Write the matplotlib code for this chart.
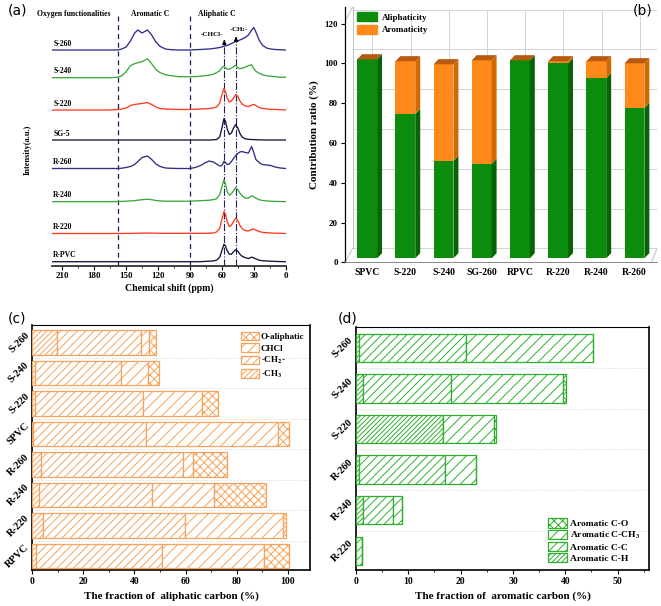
import matplotlib
matplotlib.use("Agg")
import matplotlib.pyplot as plt
from matplotlib.patches import Polygon, Patch
import numpy as np

# ---------------- (a) 13C NMR spectra (intensity) ----------------
ppm = [220, 200, 180, 165, 158, 154, 150, 146, 142, 139, 135, 130, 126, 122, 118,
       113, 108, 100, 90, 85, 80, 76, 72, 68, 65, 62, 60, 58, 56.5, 55,
       53, 51, 49, 47, 45, 43, 41, 38, 35, 32, 30, 28, 25, 22, 18,
       14, 10, 5, 0]
s260 = [0, 0, 0, 0, 0, 1, 3, 9, 17, 20, 17, 20, 15, 8, 3.5,
        1, 0.3, 0, 0, 0.3, 0.5, 0.8, 1, 1.5, 2, 2.5, 3, 4, 4, 4.5,
        5.5, 6.5, 7.5, 8.5, 9, 10, 11, 12.5, 15, 20, 22.5, 18, 10, 5, 2,
        1, 0.5, 0.2, 0]
s240 = [0, 0, 0, 0, 0.5, 2, 6, 12, 14, 15, 16, 19, 14, 8, 5,
        3, 2, 1, 1, 1, 1.5, 2, 2.5, 3.5, 5, 7, 10, 11.5, 10, 8.5,
        8.5, 9.5, 11, 12.5, 10, 9, 9.5, 10.5, 12, 13, 9, 6.5, 4.5, 3, 2,
        1.5, 1, 0.5, 0.5]
s220 = [0, 0, 0, 0, 0.5, 1, 2, 4.5, 5.5, 6, 6.5, 7.5, 5.5, 3, 1.5,
        1, 0.8, 0.5, 0.5, 0.8, 1, 1.2, 1.5, 2, 3, 7, 15, 21.5, 18, 12,
        8, 9, 12, 15.5, 13.5, 9, 6, 4, 3.5, 5, 5.5, 4.5, 2.5, 1.5, 1,
        0.7, 0.5, 0.3, 0]
sg5 = [0, 0, 0, 0, 0, 0, 0, 0, 0, 0, 0, 0, 0, 0, 0,
       0, 0, 0, 0, 0, 0, 0, 0, 0.2, 0.5, 3, 12, 21.5, 18.5, 11,
       5.5, 7, 12, 15.5, 12, 6.5, 3, 1.2, 0.6, 0.5, 0.4, 0.3, 0.2, 0.1, 0,
       0, 0, 0, 0]
r260 = [0, 0, 0, 0, 0, 0.3, 1, 2, 4, 7, 11, 12.5, 9, 4.5, 2,
        0.5, 0.2, 0, 0, 1, 3, 5.5, 7.5, 6.5, 4.5, 2.5, 3, 7, 6, 4,
        4.5, 7, 10, 13, 15, 16.5, 17, 16, 15.5, 22, 16, 9, 6, 4, 3.5,
        3, 1.5, 0.5, 0]
r240 = [0, 0, 0, 0, 0.2, 0.3, 0.5, 0.8, 1, 1.5, 2, 2.5, 2, 1.2, 0.8,
        0.5, 0.5, 0.5, 0.5, 0.8, 1, 1.2, 1.5, 2, 3, 7, 15, 22, 17, 10,
        6.5, 8, 11, 14, 12, 8.5, 6, 3.5, 3.5, 6, 5, 3.5, 2, 1.2, 0.8,
        0.5, 0.3, 0.2, 0]
r220 = [0, 0, 0, 0, 0, 0, 0.1, 0.1, 0.2, 0.3, 0.4, 0.5, 0.4, 0.3, 0.2,
        0.2, 0.2, 0.2, 0.2, 0.2, 0.2, 0.2, 0.3, 0.5, 1.5, 5, 14, 22, 19, 12,
        7, 8.5, 12, 15.5, 13, 8, 5, 2.8, 2.5, 4, 4.5, 3.5, 2, 1.2, 0.8,
        0.5, 0.3, 0.2, 0]
rpvc = [0, 0, 0, 0, 0, 0, 0, 0, 0, 0, 0, 0, 0, 0, 0,
        0, 0, 0, 0, 0, 0, 0.3, 0.5, 0.8, 1.5, 4.5, 11, 17.5, 15.5, 11,
        7.5, 7.5, 10, 12, 10.5, 7.5, 5.5, 4, 3.2, 4.5, 3.8, 2.8, 1.5, 1, 0.7,
        0.5, 0.3, 0.1, 0]
spec_names = ['S-260', 'S-240', 'S-220', 'SG-5', 'R-260', 'R-240', 'R-220', 'R-PVC']
spec_values = [s260, s240, s220, sg5, r260, r240, r220, rpvc]
region_bounds = [158, 90]          # ppm, dashed separators
peak_marks = [57.7, 46.7]          # ppm, -CHCl- and -CH2-

# ---------------- (b) aliphaticity / aromaticity ----------------
cats_b = ['SPVC', 'S-220', 'S-240', 'SG-260', 'RPVC', 'R-220', 'R-240', 'R-260']
aliphaticity = [100, 72.5, 49, 47.5, 99.5, 98, 90.5, 75.5]
aromaticity = [0, 26.5, 48.5, 52, 0, 1, 8.5, 22.5]

# ---------------- (c) aliphatic carbon fractions ----------------
cats_c = ['RPVC', 'R-220', 'R-240', 'R-260', 'SPVC', 'S-220', 'S-240', 'S-260']
ch3 = [1.4, 4.3, 2.6, 3.3, 0.4, 1.0, 1.0, 9.5]
ch2 = [49.5, 55.6, 44.1, 55.7, 44.0, 42.5, 33.7, 32.9]
chcl = [39.7, 38.1, 24.4, 3.9, 51.9, 23.1, 10.7, 3.3]
o_aliphatic = [9.8, 1.2, 20.4, 13.5, 4.1, 6.2, 4.2, 2.7]

# ---------------- (d) aromatic carbon fractions ----------------
cats_d = ['R-220', 'R-240', 'R-260', 'S-220', 'S-240', 'S-260']
arom_ch = [0, 1.4, 0.6, 16.6, 1.4, 0.6]
arom_cc = [1.1, 5.7, 16.4, 0, 16.7, 20.5]
arom_cch3 = [0, 1.7, 5.9, 9.8, 21.5, 24.2]
arom_co = [0, 0, 0, 0.3, 0.45, 0]

# ---------------- style ----------------
plt.rcParams['font.family'] = ['Liberation Serif', 'DejaVu Serif']
plt.rcParams['font.weight'] = 'bold'
plt.rcParams['axes.labelweight'] = 'bold'
plt.rcParams['mathtext.fontset'] = 'stix'
plt.rcParams['hatch.linewidth'] = 0.7

W, H = 661, 606
fig = plt.figure(figsize=(W / 100, H / 100), dpi=100)


def frac(left, top, right, bottom):
    return [left / W, 1 - bottom / H, (right - left) / W, (bottom - top) / H]


# ======== (a) ========
ax = fig.add_axes(frac(52, 8, 286, 266))
ax.set_xlim(219.7, -0.3)
ax.set_ylim(0, 258)
spec_colors = ['#2e2e8c', '#3aa83a', '#ff3b1f', '#14143c', '#2e2e80', '#3aa83a', '#ff3b1f', '#14143c']
spec_offsets = [216, 188.3, 156, 126, 97.5, 64.3, 32.5, 4.3]
for name, vals, col, off in zip(spec_names, spec_values, spec_colors, spec_offsets):
    ax.plot(ppm, np.array(vals) + off, color=col, lw=0.95, zorder=3)
    ax.text(218.5, off + 6.5, name, fontsize=5.5, va='center', ha='left')

for b in region_bounds:
    ax.plot([b, b], [0, 253], ls=(0, (4, 3)), color='#1f1f5c', lw=0.9, zorder=2)
ax.plot([peak_marks[0]] * 2, [0, 226], ls='-.', color='#1f1f5c', lw=0.8, zorder=2)
ax.plot([peak_marks[1]] * 2, [0, 229], ls='-.', color='#1f1f5c', lw=0.8, zorder=2)
ax.annotate('', xy=(peak_marks[0], 229), xytext=(peak_marks[0], 222),
            arrowprops=dict(arrowstyle='-|>', color='black', lw=0.8, mutation_scale=6))
ax.annotate('', xy=(peak_marks[1], 232), xytext=(peak_marks[1], 225),
            arrowprops=dict(arrowstyle='-|>', color='black', lw=0.8, mutation_scale=6))
ax.text(69, 231, '-CHCl-', fontsize=5, ha='center', va='center')
ax.text(44.4, 236, '-CH$_2$-', fontsize=5, ha='center', va='center')

ax.text(199, 252, 'Oxygen functionalities', fontsize=5.5, ha='center', va='center', clip_on=False)
ax.text(127.6, 252, 'Aromatic C', fontsize=5.5, ha='center', va='center')
ax.text(64.6, 252, 'Aliphatic C', fontsize=5.5, ha='center', va='center')

for s in ['top', 'right', 'left']:
    ax.spines[s].set_visible(False)
ax.spines['bottom'].set_linewidth(1.3)
ax.spines['bottom'].set_color('#333333')
ax.set_yticks([])
ax.set_xticks([210, 180, 150, 120, 90, 60, 30, 0])
ax.set_xticks([195, 165, 135, 105, 75, 45, 15], minor=True)
ax.tick_params(axis='x', labelsize=6.5, length=3, width=0.8, pad=1.5, direction='out')
ax.tick_params(axis='x', which='minor', length=1.5, width=0.6)
ax.set_xlabel('Chemical shift (ppm)', fontsize=7, labelpad=2)
fig.text(28 / W, 1 - 150 / H, 'Intensity(a.u.)', rotation=90, fontsize=6,
         ha='center', va='center')
fig.text(8 / W, 1 - 10 / H, '(a)', fontsize=10, family='DejaVu Sans',
         weight='normal', va='center')

# ======== (b) ========
ax = fig.add_axes(frac(345, 7, 657, 262.3))
ax.set_xlim(-0.58, 7.59)
ax.set_ylim(0, 128.3)
xb = np.arange(len(cats_b))
wall_dx, wall_dy = 0.2, 7
for v in range(0, 121, 20):
    ax.plot([-0.58 + wall_dx, 7.59], [v + wall_dy, v + wall_dy], color='#d4d4d4', lw=0.7, zorder=0)
for xc in xb:
    ax.plot([xc + 0.14, xc + 0.14], [wall_dy, 120 + wall_dy], color='#d4d4d4', lw=0.7, zorder=0)
ax.plot([-0.58 + wall_dx] * 2, [wall_dy, 120 + wall_dy + 1.3], color='#c0c0c0', lw=0.7, zorder=0)
ax.plot([-0.58, -0.58 + wall_dx], [0, wall_dy], color='#c0c0c0', lw=0.7, zorder=0)
ax.plot([-0.58, -0.58 + wall_dx], [121, 128.3], color='#c0c0c0', lw=0.7, zorder=0)
ax.plot([7.45, 7.59], [0, wall_dy], color='#c0c0c0', lw=0.7, zorder=0)

bw, dx, dy, floor = 0.52, 0.13, 2.6, 2.0
green, green_side = '#0c8c0c', '#066406'
orange, orange_side, top_face = '#ff8a1a', '#cf6a00', '#b85a10'
ax.bar(xb, aliphaticity, width=bw, bottom=floor, color=green, zorder=3)
ax.bar(xb, aromaticity, width=bw, bottom=floor + np.array(aliphaticity), color=orange, zorder=3)
for xc, a, r in zip(xb, aliphaticity, aromaticity):
    xr = xc + bw / 2
    y0, y1, y2 = floor, floor + a, floor + a + r
    ax.add_patch(Polygon([(xr, y0), (xr + dx, y0 + dy), (xr + dx, y1 + dy), (xr, y1)],
                         closed=True, color=green_side, zorder=3, lw=0))
    if r > 0:
        ax.add_patch(Polygon([(xr, y1), (xr + dx, y1 + dy), (xr + dx, y2 + dy), (xr, y2)],
                             closed=True, color=orange_side, zorder=3, lw=0))
    ax.add_patch(Polygon([(xc - bw / 2, y2), (xc - bw / 2 + dx, y2 + dy),
                          (xr + dx, y2 + dy), (xr, y2)],
                         closed=True, color=top_face, zorder=3, lw=0))

for s in ['top', 'right']:
    ax.spines[s].set_visible(False)
ax.spines['left'].set_linewidth(0.9)
ax.spines['bottom'].set_color('#888888')
ax.spines['bottom'].set_linewidth(0.7)
ax.set_xticks(xb)
ax.set_xticklabels(cats_b, fontsize=7)
ax.tick_params(axis='x', length=0, pad=4)
ax.set_yticks(range(0, 121, 20))
ax.tick_params(axis='y', labelsize=6.5, length=3, width=0.8, pad=2)
ax.set_ylabel('Contribution ratio (%)', fontsize=8, labelpad=4)
ax.legend(handles=[Patch(color=green, label='Aliphaticity'),
                   Patch(color=orange, label='Aromaticity')],
          loc='upper left', bbox_to_anchor=(0.02, 1.0), frameon=False,
          fontsize=6.5, handlelength=2.3, handleheight=1.1, labelspacing=0.35,
          handletextpad=0.5, borderaxespad=0.2)
fig.text(633 / W, 1 - 10 / H, '(b)', fontsize=10, family='DejaVu Sans',
         weight='normal', va='center')

# ======== (c) ========
ax = fig.add_axes(frac(32.3, 325, 310, 570))
ax.set_xlim(0, 108.7)
ax.set_ylim(-0.46, 7.57)
yc = np.arange(len(cats_c))
orange_e = '#f7a35c'
left = np.zeros(len(cats_c))
segs_c = [(ch3, '//////', '-CH$_3$'), (ch2, '////', '-CH$_2$-'),
          (chcl, '///', 'CHCl'), (o_aliphatic, 'xxxx', 'O-aliphatic')]
handles = []
for vals, hatch, lab in segs_c:
    ax.barh(yc, vals, left=left, height=0.8, facecolor='white', edgecolor=orange_e,
            hatch=hatch, lw=0.9, zorder=3)
    left = left + np.array(vals)
    handles.append(Patch(facecolor='white', edgecolor=orange_e, hatch=hatch, lw=0.9, label=lab))
for k in range(len(cats_c) - 1):
    ax.axhline(k + 0.5, color='#cccccc', lw=0.6, ls=':', zorder=1)
ax.set_yticks(yc)
ax.set_yticklabels(cats_c, rotation=45, fontsize=7.5, va='center', ha='right')
ax.tick_params(axis='y', length=0, pad=1)
ax.set_xticks(range(0, 101, 20))
ax.set_xticks(range(10, 101, 20), minor=True)
ax.tick_params(axis='x', labelsize=7, length=3, width=0.8, pad=2)
ax.tick_params(axis='x', which='minor', length=1.5, width=0.6)
for s in ax.spines.values():
    s.set_linewidth(1.2)
ax.spines['top'].set_linewidth(0.8)
ax.set_xlabel('The fraction of  aliphatic carbon (%)', fontsize=8, labelpad=4)
ax.legend(handles=handles[::-1], loc='upper right', bbox_to_anchor=(1.0, 0.995),
          frameon=False, fontsize=6.5, handlelength=2.0, handleheight=1.1,
          labelspacing=0.25, handletextpad=0.2, borderaxespad=0.2)
fig.text(8 / W, 1 - 318 / H, '(c)', fontsize=10, family='DejaVu Sans',
         weight='normal', va='center')

# ======== (d) ========
ax = fig.add_axes(frac(356, 327, 649, 570))
ax.set_xlim(0, 56)
ax.set_ylim(-0.47, 5.51)
yd = np.arange(len(cats_d))
green_e = '#2db02d'
left = np.zeros(len(cats_d))
segs_d = [(arom_ch, '///////', 'Aromatic C-H'), (arom_cc, '////', 'Aromatic C-C'),
          (arom_cch3, '///', 'Aromatic C-CH$_3$'), (arom_co, 'xxxx', 'Aromatic C-O')]
handles = []
for vals, hatch, lab in segs_d:
    ax.barh(yd, vals, left=left, height=0.7, facecolor='white', edgecolor=green_e,
            hatch=hatch, lw=0.9, zorder=3)
    left = left + np.array(vals)
    handles.append(Patch(facecolor='white', edgecolor=green_e, hatch=hatch, lw=0.9, label=lab))
for k in range(len(cats_d) - 1):
    ax.axhline(k + 0.5, color='#cccccc', lw=0.6, ls=':', zorder=1)
ax.set_yticks(yd)
ax.set_yticklabels(cats_d, rotation=45, fontsize=7.5, va='center', ha='right')
ax.tick_params(axis='y', length=0, pad=1)
ax.set_xticks(range(0, 51, 10))
ax.set_xticks(range(5, 56, 10), minor=True)
ax.tick_params(axis='x', labelsize=7, length=3, width=0.8, pad=2)
ax.tick_params(axis='x', which='minor', length=1.5, width=0.6)
for s in ax.spines.values():
    s.set_linewidth(1.2)
ax.spines['top'].set_linewidth(0.8)
ax.set_xlabel('The fraction of  aromatic carbon (%)', fontsize=8, labelpad=4)
ax.legend(handles=handles[::-1], loc='lower right', bbox_to_anchor=(0.99, 0.005),
          frameon=False, fontsize=6.8, handlelength=2.0, handleheight=1.1,
          labelspacing=0.15, handletextpad=0.3, borderaxespad=0.2)
fig.text(338 / W, 1 - 318 / H, '(d)', fontsize=10, family='DejaVu Sans',
         weight='normal', va='center')

fig.savefig('out.png', dpi=100)
